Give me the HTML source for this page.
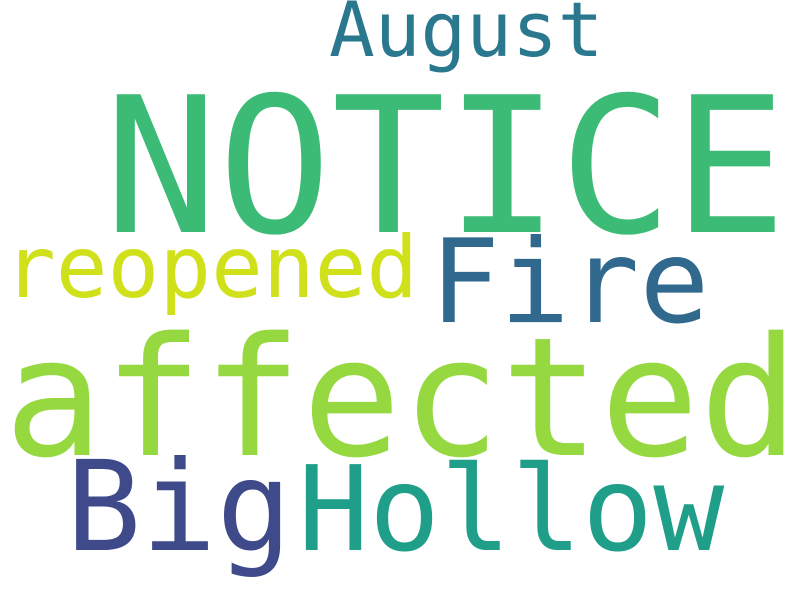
<!DOCTYPE html>
<html><head><meta charset="utf-8"><style>
html,body{margin:0;padding:0;background:#fff;width:800px;height:600px;overflow:hidden}
svg text{font-family:"DejaVu Sans Mono","Liberation Mono",monospace}
</style></head><body>
<svg width="800" height="600" viewBox="0 0 800 600" xmlns="http://www.w3.org/2000/svg">
<rect width="800" height="600" fill="#ffffff"/>
<text x="329" y="56" font-size="76" fill="#2a788e">August</text>
<text x="104" y="232" font-size="189" fill="#3bbb75">NOTICE</text>
<text x="4" y="297" font-size="86" fill="#d0e11c">reopened</text>
<text x="430" y="322" font-size="116" fill="#31688e">Fire</text>
<text x="4" y="455" font-size="165" fill="#95d840">affected</text>
<text x="66" y="550" font-size="125" fill="#3e4a89">Big</text>
<text x="298" y="550" font-size="118" fill="#1f9e89">Hollow</text>
</svg>
</body></html>
